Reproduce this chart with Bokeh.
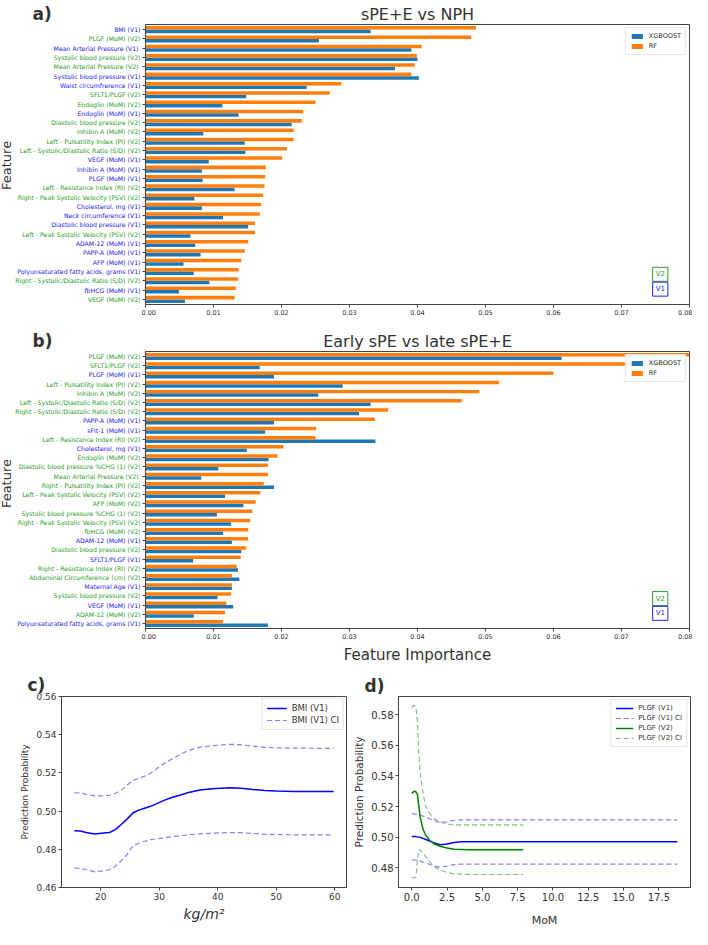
import math
from bokeh.plotting import figure
from bokeh.models import (Range1d, FixedTicker, Label, ColumnDataSource, Title,
                          NumeralTickFormatter, CustomJSTickFormatter)
from bokeh.layouts import column, row
from bokeh.transform import dodge
from bokeh.core.properties import value
from bokeh.embed import file_html
from bokeh.resources import INLINE

# ---------------- data: panel a ----------------
a_features = [
    "BMI (V1)", "PLGF (MoM) (V2)", "Mean Arterial Pressure  (V1)", "Systolic blood pressure (V2)",
    "Mean Arterial Pressure  (V2)", "Systolic blood pressure (V1)", "Waist circumfrerence (V1)",
    "SFLT1/PLGF (V2)", "Endoglin (MoM) (V2)", "Endoglin (MoM) (V1)", "Diastolic blood pressure (V2)",
    "Inhibin A (MoM) (V2)", "Left - Pulsatility Index (PI) (V2)", "Left - Systolic/Diastolic Ratio (S/D) (V2)",
    "VEGF (MoM) (V1)", "Inhibin A (MoM) (V1)", "PLGF (MoM) (V1)", "Left - Resistance Index (RI) (V2)",
    "Right - Peak Systolic Velocity (PSV) (V2)", "Cholesterol, mg (V1)", "Neck circumference (V1)",
    "Diastolic blood pressure (V1)", "Left - Peak Systolic Velocity (PSV) (V2)", "ADAM-12 (MoM) (V1)",
    "PAPP-A (MoM) (V1)", "AFP (MoM) (V1)", "Polyunsaturated fatty acids, grams (V1)",
    "Right - Systolic/Diastolic Ratio (S/D) (V2)", "fbHCG (MoM) (V1)", "VEGF (MoM) (V2)",
]
a_xgb = [0.0331, 0.0255, 0.0391, 0.0400, 0.0367, 0.0402, 0.0237, 0.0148, 0.0113, 0.0137,
         0.0215, 0.0085, 0.0146, 0.0147, 0.0093, 0.0083, 0.0084, 0.0131, 0.0072, 0.0083,
         0.0114, 0.0151, 0.0066, 0.0073, 0.0081, 0.0056, 0.0071, 0.0094, 0.0049, 0.0058]
a_rf = [0.0486, 0.0479, 0.0406, 0.0399, 0.0396, 0.0391, 0.0288, 0.0271, 0.0250, 0.0232,
        0.0230, 0.0218, 0.0218, 0.0208, 0.0201, 0.0177, 0.0176, 0.0175, 0.0173, 0.0170,
        0.0168, 0.0161, 0.0161, 0.0151, 0.0146, 0.0141, 0.0137, 0.0136, 0.0133, 0.0131]

# ---------------- data: panel b ----------------
b_features = [
    "PLGF (MoM) (V2)", "SFLT1/PLGF (V2)", "PLGF (MoM) (V1)", "Left - Pulsatility Index (PI) (V2)",
    "Inhibin A (MoM) (V2)", "Left - Systolic/Diastolic Ratio (S/D) (V2)",
    "Right - Systolic/Diastolic Ratio (S/D) (V2)", "PAPP-A (MoM) (V1)", "sFlt-1 (MoM) (V1)",
    "Left - Resistance Index (RI) (V2)", "Cholesterol, mg (V1)", "Endoglin (MoM) (V2)",
    "Diastolic blood pressure %CHG (1) (V2)", "Mean Arterial Pressure  (V2)",
    "Right - Pulsatility Index (PI) (V2)", "Left - Peak Systolic Velocity (PSV) (V2)", "AFP (MoM) (V2)",
    "Systolic blood pressure %CHG (1) (V2)", "Right - Peak Systolic Velocity (PSV) (V2)",
    "fbHCG (MoM) (V2)", "ADAM-12 (MoM) (V1)", "Diastolic blood pressure (V2)", "SFLT1/PLGF (V1)",
    "Right - Resistance Index (RI) (V2)", "Abdominal Circumference (cm) (V2)", "Maternal Age (V1)",
    "Systolic blood pressure (V2)", "VEGF (MoM) (V1)", "ADAM-12 (MoM) (V2)",
    "Polyunsaturated fatty acids, grams (V1)",
]
b_xgb = [0.0612, 0.0168, 0.0189, 0.0290, 0.0254, 0.0331, 0.0314, 0.0189, 0.0176, 0.0338,
         0.0149, 0.0181, 0.0107, 0.0082, 0.0189, 0.0117, 0.0144, 0.0105, 0.0126, 0.0114,
         0.0127, 0.0141, 0.0070, 0.0136, 0.0138, 0.0127, 0.0106, 0.0129, 0.0071, 0.0180]
b_rf = [0.0810, 0.0775, 0.0600, 0.0520, 0.0491, 0.0465, 0.0357, 0.0337, 0.0251, 0.0250,
        0.0203, 0.0194, 0.0180, 0.0180, 0.0174, 0.0169, 0.0162, 0.0157, 0.0154, 0.0151,
        0.0151, 0.0148, 0.0140, 0.0134, 0.0127, 0.0127, 0.0126, 0.0119, 0.0117, 0.0114]

importance_ticks = [0.00, 0.01, 0.02, 0.03, 0.04, 0.05, 0.06, 0.07, 0.08]

# ---------------- data: panel c ----------------
bmi_x = [15.5, 16.5, 17.5, 19.0, 20.5, 21.5, 22.5, 23.5, 24.5, 25.5, 26.5, 27.5, 28.5, 29.5,
         30.5, 32.0, 33.5, 35.0, 37.0, 39.0, 42.0, 44.0, 46.0, 48.0, 50.0, 53.0, 56.0, 59.8]
bmi_mean = [0.4897, 0.4896, 0.4888, 0.4880, 0.4885, 0.4888, 0.4903, 0.4930, 0.4958, 0.4990,
            0.5005, 0.5015, 0.5025, 0.5038, 0.5052, 0.5070, 0.5083, 0.5097, 0.5110, 0.5117,
            0.5122, 0.5120, 0.5113, 0.5108, 0.5105, 0.5103, 0.5103, 0.5103]
bmi_upper = [0.5096, 0.5095, 0.5088, 0.5080, 0.5080, 0.5083, 0.5092, 0.5110, 0.5135, 0.5160,
             0.5172, 0.5183, 0.5198, 0.5220, 0.5243, 0.5270, 0.5295, 0.5318, 0.5335, 0.5342,
             0.5350, 0.5347, 0.5340, 0.5334, 0.5331, 0.5330, 0.5329, 0.5328]
bmi_lower = [0.4702, 0.4700, 0.4693, 0.4682, 0.4688, 0.4693, 0.4710, 0.4740, 0.4772, 0.4818,
             0.4832, 0.4842, 0.4850, 0.4855, 0.4858, 0.4866, 0.4870, 0.4876, 0.4881, 0.4884,
             0.4888, 0.4887, 0.4883, 0.4879, 0.4877, 0.4876, 0.4876, 0.4876]
c_xticks = [20, 30, 40, 50, 60]
c_yticks = [0.46, 0.48, 0.50, 0.52, 0.54, 0.56]

# ---------------- data: panel d ----------------
plgf1_x = [0.0, 0.3, 0.6, 1.0, 1.5, 2.0, 2.5, 3.0, 3.5, 5.0, 10.0, 15.0, 18.8]
plgf1_mean = [0.5003, 0.5003, 0.4998, 0.4984, 0.4965, 0.4950, 0.4955, 0.4965, 0.4970, 0.4970,
              0.4970, 0.4970, 0.4970]
plgf1_upper = [0.5153, 0.5150, 0.5143, 0.5130, 0.5110, 0.5095, 0.5100, 0.5110, 0.5113, 0.5113,
               0.5113, 0.5113, 0.5113]
plgf1_lower = [0.4850, 0.4850, 0.4843, 0.4830, 0.4813, 0.4803, 0.4810, 0.4820, 0.4823, 0.4823,
               0.4823, 0.4823, 0.4823]
plgf2_x = [0.0, 0.1, 0.2, 0.3, 0.4, 0.5, 0.6, 0.8, 1.0, 1.3, 1.6, 2.0, 2.5, 3.0, 4.0, 5.5, 7.9]
plgf2_mean = [0.5285, 0.5295, 0.5300, 0.5295, 0.5280, 0.5200, 0.5130, 0.5050, 0.5010, 0.4975,
              0.4955, 0.4940, 0.4928, 0.4920, 0.4917, 0.4917, 0.4917]
plgf2_upper = [0.5845, 0.5860, 0.5860, 0.5850, 0.5750, 0.5550, 0.5420, 0.5280, 0.5200, 0.5150,
               0.5120, 0.5100, 0.5085, 0.5080, 0.5080, 0.5080, 0.5080]
plgf2_lower = [0.4738, 0.4735, 0.4733, 0.4740, 0.4850, 0.4920, 0.4915, 0.4895, 0.4870, 0.4835,
               0.4805, 0.4785, 0.4768, 0.4760, 0.4755, 0.4755, 0.4755]
d_xticks = [0.0, 2.5, 5.0, 7.5, 10.0, 12.5, 15.0, 17.5]
d_yticks = [0.48, 0.50, 0.52, 0.54, 0.56, 0.58]

# ---------------- styles ----------------
FONT = "DejaVu Sans"
XGB_C = "#1f77b4"
RF_C = "#ff7f0e"
V1_C = "#2222ee"
V2_C = "#2a9d2a"
AX_C = "#444444"
TXT_C = "#333333"
LABEL_W = 141
TOTAL_W = 692


def style_axes(p, tick_size):
    for ax in (p.xaxis[0], p.yaxis[0]):
        ax.axis_line_color = AX_C
        ax.major_tick_line_color = AX_C
        ax.minor_tick_line_color = None
        ax.major_tick_in = 0
        ax.major_tick_out = 3
        ax.major_label_text_font = FONT
        ax.major_label_text_font_size = tick_size
        ax.major_label_text_color = TXT_C
        ax.major_label_standoff = 2
        ax.axis_label_text_font = FONT
        ax.axis_label_text_font_style = "normal"
        ax.axis_label_text_color = TXT_C
        ax.axis_label_standoff = 3
    p.xgrid.visible = False
    p.ygrid.visible = False
    p.outline_line_color = AX_C
    p.outline_line_alpha = 1
    p.background_fill_color = "white"
    p.border_fill_color = "white"


def bar_panel(feats, xgb, rf, title, letter, height, mbt, mbb, title_offset, feat_shift,
              xlabel=None):
    n = len(feats)
    pos = [n - 1 - i for i in range(n)]
    cols = [V1_C if "(V1)" in f else V2_C for f in feats]
    src = ColumnDataSource(dict(pos=pos, xgb=xgb, rf=rf, feat=feats, lab_col=cols, one=[1.0] * n))
    yr = Range1d(-0.55, n - 0.45)

    # left figure holding the "Feature" title and the coloured feature names
    lab = figure(width=LABEL_W, height=height, x_range=Range1d(0, LABEL_W), y_range=yr,
                 output_backend="svg", toolbar_location=None,
                 min_border_left=0, min_border_right=0, min_border_top=mbt, min_border_bottom=mbb)
    lab.text(x=LABEL_W, y="pos", text="feat", source=src, x_offset=-1, text_align="right",
             text_baseline="middle", text_font=value(FONT), text_font_size=value("6.2px"),
             text_color="lab_col")
    lab.text(x=[6.0], y=[(n - 1) / 2 + feat_shift], text=["Feature"], angle=math.pi / 2,
             text_align="center", text_baseline="middle", text_font=value(FONT),
             text_font_size=value("13px"), text_color=TXT_C)
    lab.xaxis.visible = False
    lab.yaxis.visible = False
    lab.xgrid.visible = False
    lab.ygrid.visible = False
    lab.outline_line_color = None
    lab.title = Title(text=letter, align="left", offset=32, standoff=2, text_font=FONT,
                      text_font_size="17px", text_font_style="bold", text_color=TXT_C)

    # bar figure
    p = figure(width=TOTAL_W - LABEL_W, height=height, x_range=Range1d(0, 0.08), y_range=yr,
               output_backend="svg", toolbar_location=None,
               min_border_left=4, min_border_right=3, min_border_top=mbt, min_border_bottom=mbb)
    p.hbar(y=dodge("pos", -0.19), right="xgb", left=0, height=0.38, source=src,
           fill_color=XGB_C, line_color=None, legend_label="XGBOOST")
    p.hbar(y=dodge("pos", 0.19), right="rf", left=0, height=0.38, source=src,
           fill_color=RF_C, line_color=None, legend_label="RF")
    style_axes(p, "6.5px")
    p.xaxis.ticker = FixedTicker(ticks=importance_ticks)
    p.xaxis.formatter = NumeralTickFormatter(format="0.00")
    p.yaxis.ticker = FixedTicker(ticks=pos)
    p.yaxis.formatter = CustomJSTickFormatter(code="return ''")
    p.yaxis.major_label_standoff = 0
    p.title = Title(text=title, align="center", offset=title_offset, standoff=2, text_font=FONT,
                    text_font_size="16px", text_font_style="normal", text_color=TXT_C)
    if xlabel:
        p.add_layout(Title(text=xlabel, align="center", offset=-35, standoff=4, text_font=FONT,
                           text_font_size="15px", text_font_style="normal", text_color=TXT_C),
                     "below")

    for txt, c, r in (("V2", V2_C, 26.3), ("V1", V1_C, 27.9)):
        p.add_layout(Label(x=0.0757, y=n - 1 - r, text=txt, text_align="center",
                           text_baseline="middle", text_font=FONT, text_font_size="7px",
                           text_color=c, border_line_color=c, border_line_width=1,
                           background_fill_color="white", padding=3))
    lg = p.legend[0]
    lg.location = "top_right"
    lg.label_text_font = FONT
    lg.label_text_font_size = "6.5px"
    lg.label_text_color = TXT_C
    lg.label_height = 8
    lg.glyph_height = 6
    lg.glyph_width = 14
    lg.spacing = 2
    lg.padding = 4
    lg.margin = 3
    lg.label_standoff = 5
    lg.border_line_color = "#cccccc"
    lg.background_fill_alpha = 0.9
    return row(lab, p)


pa = bar_panel(a_features, a_xgb, a_rf, "sPE+E vs NPH", "a)", 327, 22, 23, 0, -0.1)
pb = bar_panel(b_features, b_xgb, b_rf, "Early sPE vs late sPE+E", "b)", 339, 22, 38, -20, 0.7,
               xlabel="Feature Importance")

# ---------------- panel c ----------------
pc = figure(width=350, height=263, x_range=Range1d(13.3, 62.0), y_range=Range1d(0.46, 0.56),
            output_backend="svg", toolbar_location=None,
            min_border_left=61, min_border_right=4, min_border_top=30, min_border_bottom=33)
pc.line(bmi_x, bmi_mean, line_color="#0000ff", line_width=1.5, legend_label="BMI (V1)")
pc.line(bmi_x, bmi_upper, line_color="#8080ff", line_width=1.2, line_dash="5 3",
        legend_label="BMI (V1) CI")
pc.line(bmi_x, bmi_lower, line_color="#8080ff", line_width=1.2, line_dash="5 3",
        legend_label="BMI (V1) CI")
style_axes(pc, "9px")
pc.xaxis.ticker = FixedTicker(ticks=c_xticks)
pc.yaxis.ticker = FixedTicker(ticks=c_yticks)
pc.yaxis.formatter = NumeralTickFormatter(format="0.00")
pc.yaxis.axis_label = "Prediction Probability"
pc.yaxis.axis_label_text_font_size = "9px"
pc.xaxis.axis_label = "kg/m²"
pc.xaxis.axis_label_text_font_size = "14px"
pc.xaxis.axis_label_text_font_style = "italic"
pc.title = Title(text="c)", align="left", offset=-34, standoff=4, text_font=FONT,
                 text_font_size="17px", text_font_style="bold", text_color=TXT_C)
lc = pc.legend[0]
lc.location = "top_right"
lc.label_text_font = FONT
lc.label_text_font_size = "8.5px"
lc.label_text_color = TXT_C
lc.label_height = 10
lc.glyph_height = 10
lc.glyph_width = 20
lc.spacing = 2
lc.padding = 4
lc.margin = 2
lc.border_line_color = "#cccccc"

# ---------------- panel d ----------------
pd = figure(width=342, height=263, x_range=Range1d(-0.94, 19.74), y_range=Range1d(0.467, 0.592),
            output_backend="svg", toolbar_location=None,
            min_border_left=43, min_border_right=2, min_border_top=25, min_border_bottom=39)
pd.line(plgf1_x, plgf1_mean, line_color="#0000ff", line_width=1.5, legend_label="PLGF (V1)")
pd.line(plgf1_x, plgf1_upper, line_color="#8080ff", line_width=1.2, line_dash="5 3",
        legend_label="PLGF (V1) CI")
pd.line(plgf1_x, plgf1_lower, line_color="#8080ff", line_width=1.2, line_dash="5 3",
        legend_label="PLGF (V1) CI")
pd.line(plgf2_x, plgf2_mean, line_color="#008000", line_width=1.5, legend_label="PLGF (V2)")
pd.line(plgf2_x, plgf2_upper, line_color="#80c080", line_width=1.2, line_dash="5 3",
        legend_label="PLGF (V2) CI")
pd.line(plgf2_x, plgf2_lower, line_color="#80c080", line_width=1.2, line_dash="5 3",
        legend_label="PLGF (V2) CI")
style_axes(pd, "10px")
pd.xaxis.ticker = FixedTicker(ticks=d_xticks)
pd.xaxis.formatter = NumeralTickFormatter(format="0.0")
pd.yaxis.ticker = FixedTicker(ticks=d_yticks)
pd.yaxis.formatter = NumeralTickFormatter(format="0.00")
pd.yaxis.axis_label = "Prediction Probability"
pd.yaxis.axis_label_text_font_size = "10.5px"
pd.xaxis.axis_label = "MoM"
pd.xaxis.axis_label_text_font_size = "11px"
pd.xaxis.axis_label_standoff = 10
pd.title = Title(text="d)", align="left", offset=-34, standoff=2, text_font=FONT,
                 text_font_size="17px", text_font_style="bold", text_color=TXT_C)
ld = pd.legend[0]
ld.location = "top_right"
ld.label_text_font = FONT
ld.label_text_font_size = "7px"
ld.label_text_color = TXT_C
ld.label_height = 8
ld.glyph_height = 8
ld.glyph_width = 18
ld.spacing = 2
ld.padding = 4
ld.margin = 3
ld.border_line_color = "#cccccc"

layout = column(pa, pb, row(pc, pd))
open("out.html", "w").write(file_html(layout, INLINE))
